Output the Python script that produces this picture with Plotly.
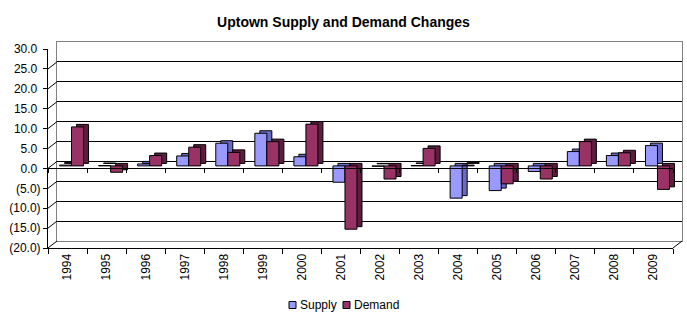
import plotly.graph_objects as go

years = [str(y) for y in range(1994, 2010)]
supply = [0.2, 0.1, 0.5, 2.5, 5.7, 8.2, 2.3, -4.1, -0.1, 0.1, -8.1, -6.2, -1.4, 3.6, 2.6, 5.1]
demand = [9.8, -1.6, 2.6, 4.7, 3.4, 6.1, 10.5, -15.9, -3.3, 4.4, 0.2, -4.5, -3.3, 6.1, 3.3, -5.9]
series_names = ["Supply", "Demand"]
y_ticks = [-20, -15, -10, -5, 0, 5, 10, 15, 20, 25, 30]
y_ticktext = [f"({abs(v):.1f})" if v < 0 else f"{v:.1f}\u00a0" for v in y_ticks]

W, H = 687, 326
ML, MR, MT, MB = 48, 5, 42, 78
PW, PH = W - ML - MR, H - MT - MB  # 634 x 206
DX, DY = 9, 7        # wall depth offset (px)
FW, FH = 625, 199    # front plane size (px)

def xd(off):
    return [off / PW, (off + FW) / PW]

def yd(off):
    return [off / PH, (off + FH) / PH]

FONT = "Liberation Sans, Arial, sans-serif"
front_colors = ["#9999FF", "#993366"]
shadow_colors = ["#6A6AC6", "#5C1E3E"]

fig = go.Figure()

# back wall subplot (gridlines)
fig.add_trace(go.Scatter(x=years, y=[None] * len(years), xaxis="x", yaxis="y",
                         showlegend=False, hoverinfo="skip"))
# front axes subplot
fig.add_trace(go.Scatter(x=years, y=[None] * len(years), xaxis="x2", yaxis="y2",
                         showlegend=False, hoverinfo="skip"))
# bar depth (shadow) faces
for vals, col in zip([supply, demand], shadow_colors):
    fig.add_trace(go.Bar(x=years, y=vals, xaxis="x3", yaxis="y3",
                         marker=dict(color=col, line=dict(color="#000000", width=1)),
                         showlegend=False, hoverinfo="skip"))
# bar front faces
for vals, col, nm in zip([supply, demand], front_colors, series_names):
    fig.add_trace(go.Bar(x=years, y=vals, name=nm, xaxis="x4", yaxis="y4",
                         marker=dict(color=col, line=dict(color="#000000", width=1)),
                         showlegend=False))
# zero-level category ticks
fig.add_trace(go.Scatter(x=years, y=[None] * len(years), xaxis="x5", yaxis="y2",
                         showlegend=False, hoverinfo="skip"))

cat_range = [-0.5, len(years) - 0.5]
hidden_x = dict(type="category", range=cat_range, visible=False, categoryorder="array", categoryarray=years)
hidden_y = dict(range=[-20, 30], visible=False)

shapes = []
for v in y_ticks:
    shapes.append(dict(type="line", xref="paper", yref="y2", xsizemode="pixel", ysizemode="pixel",
                       xanchor=0, yanchor=v, x0=0, x1=DX, y0=0, y1=DY,
                       line=dict(color="#000000", width=1)))
shapes.append(dict(type="line", xref="paper", yref="paper", x0=FW / PW, x1=1, y0=0, y1=DY / PH,
                   line=dict(color="#000000", width=1)))

# custom legend (square + label), positioned in pixels
legend_y = 1 - 305 / H
legend_sq_x = [289, 343]
legend_tx_x = [298, 352]
annotations = []
for nm, col, sx, tx in zip(series_names, front_colors, legend_sq_x, legend_tx_x):
    shapes.append(dict(type="rect", xref="paper", yref="paper", xsizemode="pixel", ysizemode="pixel",
                       xanchor=(sx - ML) / PW, yanchor=(H - MB - 305) / PH,
                       x0=0, x1=7, y0=-3.5, y1=3.5,
                       fillcolor=col, line=dict(color="#000000", width=1)))
    annotations.append(dict(text=nm, xref="paper", yref="paper", x=(tx - ML) / PW, y=(H - MB - 305) / PH,
                            xanchor="left", yanchor="middle", showarrow=False,
                            font=dict(family=FONT, size=12, color="#000000")))

fig.update_layout(
    width=W, height=H,
    margin=dict(l=ML, r=MR, t=MT, b=MB, pad=0),
    paper_bgcolor="#FFFFFF", plot_bgcolor="rgba(0,0,0,0)",
    font=dict(family=FONT, size=12, color="#000000"),
    title=dict(text="<b>Uptown Supply and Demand Changes</b>", x=0.5, xanchor="center",
               y=1 - 22 / H, yanchor="middle", font=dict(family=FONT, size=14, color="#000000")),
    barmode="group", bargap=0.385, bargroupgap=0,
    showlegend=False,
    xaxis=dict(domain=xd(DX), type="category", range=cat_range, categoryorder="array", categoryarray=years,
               showgrid=False, zeroline=False, showticklabels=False, ticks="",
               showline=True, mirror=True, linecolor="#808080", linewidth=1),
    yaxis=dict(domain=yd(DY), range=[-20, 30], tickvals=[-15, -10, -5, 0, 5, 10, 15, 20, 25],
               showgrid=True, gridcolor="#000000", gridwidth=1, zeroline=False,
               showticklabels=False, ticks="", showline=True, mirror=True, linecolor="#808080", linewidth=1),
    xaxis2=dict(domain=xd(0), anchor="y2", type="category", range=cat_range, categoryorder="array", categoryarray=years,
                showgrid=False, zeroline=False, showline=True, linecolor="#000000", linewidth=1,
                ticks="outside", tickson="boundaries", ticklen=5, tickcolor="#000000",
                tickangle=-90, tickfont=dict(family=FONT, size=12)),
    yaxis2=dict(domain=yd(0), anchor="x2", range=[-20, 30], tickvals=y_ticks, ticktext=y_ticktext,
                showgrid=False, zeroline=True, zerolinecolor="#000000", zerolinewidth=1,
                showline=True, linecolor="#000000", linewidth=1,
                ticks="outside", ticklen=4, tickcolor="#000000", tickfont=dict(family=FONT, size=12)),
    xaxis3=dict(domain=xd(DX), anchor="y3", **hidden_x),
    yaxis3=dict(domain=yd(5), anchor="x3", **hidden_y),
    xaxis4=dict(domain=xd(4), anchor="y4", **hidden_x),
    yaxis4=dict(domain=yd(2.5), anchor="x4", **hidden_y),
    xaxis5=dict(domain=xd(0), anchor="free", position=0.4 * FH / PH, type="category", range=cat_range,
                categoryorder="array", categoryarray=years, showgrid=False, zeroline=False, showline=False,
                showticklabels=False, ticks="outside", tickson="boundaries", ticklen=4, tickcolor="#000000"),
    shapes=shapes,
    annotations=annotations,
)

fig.write_html("out.html")
